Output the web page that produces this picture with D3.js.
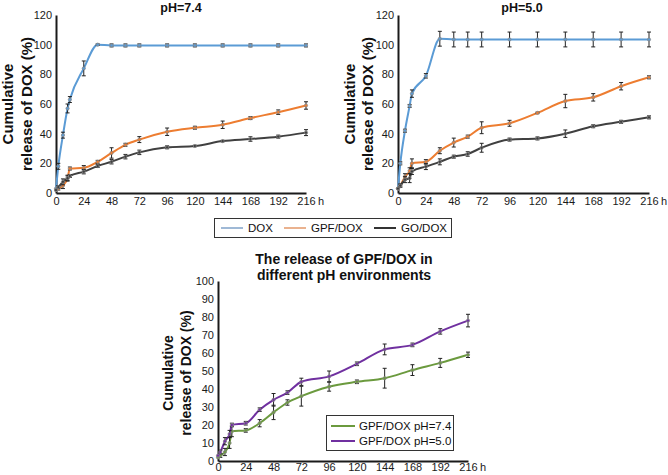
<!DOCTYPE html>
<html><head><meta charset="utf-8">
<script src="https://cdn.jsdelivr.net/npm/d3@7/dist/d3.min.js"></script>
<style>
body{margin:0;background:#fff;}
svg{display:block;font-family:"Liberation Sans",Arial,sans-serif;}
</style></head>
<body>
<svg id="c" width="668" height="475"></svg>
<script>
// ---- data ----
const times = [0, 2, 6, 10, 12, 24, 36, 48, 60, 72, 96, 120, 144, 168, 192, 216];
const xTicks = [0, 24, 48, 72, 96, 120, 144, 168, 192, 216];

// pH 7.4
const dox74    = [3, 18, 39, 57, 63, 84, 100, 99.5, 99.5, 99.5, 99.5, 99.5, 99.5, 99.5, 99.5, 99.5];
const dox74Err = [0, 2, 2, 3, 2, 5, 0.5, 1, 1, 1, 1, 1, 1, 1, 1, 1];
const gpf74    = [2, 3, 5, 10, 16.5, 17, 21, 27, 32.5, 36, 41.3, 44, 46, 50.5, 54.5, 59];
const gpf74Err = [0, 1, 2, 2, 1, 1.5, 1, 3.5, 1, 2, 2.5, 1, 2.5, 1, 1.5, 2.5];
const go74     = [2, 4, 7.5, 10, 11.5, 14.4, 18.2, 21.1, 24.5, 27.4, 30.8, 31.7, 35, 36.4, 38, 40.7];
const go74Err  = [0, 1, 2, 1.5, 1, 1.5, 1, 1.5, 1.5, 1.5, 1, 0.5, 0.5, 1.5, 1, 2];

// pH 5.0
const dox50    = [3, 20, 42, 58.7, 67, 79, 104, 103.5, 103.5, 103.5, 103.5, 103.5, 103.5, 103.5, 103.5, 103.5];
const dox50Err = [0, 1, 1, 1, 2.5, 1.5, 5, 5, 5, 5, 5, 5, 5, 5, 5, 5];
const gpf50    = [3, 5, 11, 15, 20, 21, 28.5, 34, 38, 44, 47, 54, 62, 64.5, 72, 78];
const gpf50Err = [0, 1, 2, 2, 3, 1.5, 2, 3, 1, 4, 2, 0.5, 4.5, 2.5, 2.5, 1];
const go50     = [3, 5, 9, 10, 14.5, 17.8, 21, 24.5, 26.3, 30.5, 36, 36.8, 40, 45, 48, 51];
const go50Err  = [0, 1, 2, 3, 2, 2, 2, 1, 1.5, 3, 1, 1, 2.5, 1, 1, 1];

// comparison chart error bars
const gpf74ErrC = [0, 1, 2, 3, 3, 1, 2, 4, 1.5, 5.5, 2.5, 1, 5.5, 3, 2.5, 1.5];
const gpf50ErrC = [0, 1, 2, 2, 1, 1, 1, 3.5, 1, 2, 3, 1, 3, 1, 1.5, 3.5];

const topLegend = ["DOX", "GPF/DOX", "GO/DOX"];
const bottomLegend = ["GPF/DOX pH=7.4", "GPF/DOX pH=5.0"];

const C = {dox:"#5b9bd5", gpf:"#ed7d31", go:"#404040", green:"#6b9a3e", purple:"#7030a0"};

const svg = d3.select("#c");

function chart(o){
  const g = svg.append("g");
  const x = d3.scaleLinear().domain([0,216]).range([o.x0, o.x1]);
  const y = d3.scaleLinear().domain([0,o.ymax]).range([o.y0, o.y1]);
  // axes
  const ya = d3.axisLeft(y).tickValues(d3.range(0,o.ymax+1,o.ystep)).tickSize(0).tickPadding(4);
  const yg = g.append("g").attr("transform",`translate(${o.x0},0)`).call(ya);
  const xa = d3.axisBottom(x).tickValues(xTicks).tickSize(0).tickPadding(o.xpad);
  const xg = g.append("g").attr("transform",`translate(0,${o.y0})`).call(xa);
  [yg,xg].forEach(a=>{
    a.select(".domain").attr("stroke","#1a1a1a").attr("stroke-width",2);
    a.selectAll("text").attr("font-size",o.tickFont).attr("fill","#1a1a1a")
      .attr("font-family","'Liberation Sans',Arial,sans-serif");
  });
  g.append("text").attr("x",x(216)+12).attr("y",o.y0+o.xpad).attr("dy","0.71em")
    .attr("font-size",o.tickFont).attr("fill","#1a1a1a").text("h");
  // title
  o.title.forEach((t,i)=>g.append("text").attr("x",o.tx).attr("y",o.ty+i*o.tlh)
    .attr("text-anchor","middle").attr("font-weight","bold").attr("font-size",o.tfont)
    .attr("fill","#111").text(t));
  // y title
  ["Cumulative","release of DOX (%)"].forEach((t,i)=>g.append("text")
    .attr("transform",`translate(${o.yx[i]},${o.ycy}) rotate(-90)`)
    .attr("text-anchor","middle").attr("dy","0.35em").attr("font-weight","bold")
    .attr("font-size",o.yfont).attr("fill","#111").text(t));
  // series
  const line = d3.line().x(d=>x(d.t)).y(d=>y(d.v)).curve(d3.curveMonotoneX);
  o.series.forEach(s=>{
    const pts = times.map((t,i)=>({t, v:s.v[i], e:s.e[i]}));
    g.append("path").datum(pts).attr("d",line).attr("fill","none")
      .attr("stroke",s.c).attr("stroke-width",2);
    const eb = g.append("g").attr("stroke","#222").attr("stroke-width",1);
    pts.filter(d=>d.e>0).forEach(d=>{
      const cx=x(d.t), ya1=y(d.v+d.e), ya2=y(d.v-d.e);
      eb.append("line").attr("x1",cx).attr("x2",cx).attr("y1",ya1).attr("y2",ya2);
      eb.append("line").attr("x1",cx-2).attr("x2",cx+2).attr("y1",ya1).attr("y2",ya1);
      eb.append("line").attr("x1",cx-2).attr("x2",cx+2).attr("y1",ya2).attr("y2",ya2);
    });
    g.append("g").selectAll("circle").data(pts).join("circle")
      .attr("cx",d=>x(d.t)).attr("cy",d=>y(d.v)).attr("r",1.6)
      .attr("fill",s.c).attr("stroke","#888").attr("stroke-width",0.8);
  });
}

chart({x0:56,x1:306,y0:193,y1:15,ymax:120,ystep:20,tickFont:11,xpad:4,
  title:["pH=7.4"],tx:181,ty:12,tlh:0,tfont:12.5,
  yx:[8,27],ycy:104,yfont:15,
  series:[{v:dox74,e:dox74Err,c:C.dox},{v:gpf74,e:gpf74Err,c:C.gpf},{v:go74,e:go74Err,c:C.go}]});

chart({x0:398,x1:649,y0:193,y1:15,ymax:120,ystep:20,tickFont:11,xpad:4,
  title:["pH=5.0"],tx:522,ty:12,tlh:0,tfont:12.5,
  yx:[350,368],ycy:104,yfont:15,
  series:[{v:dox50,e:dox50Err,c:C.dox},{v:gpf50,e:gpf50Err,c:C.gpf},{v:go50,e:go50Err,c:C.go}]});

chart({x0:218,x1:468,y0:461,y1:281,ymax:100,ystep:10,tickFont:11,xpad:2,
  title:["The release of GPF/DOX in","different pH environments"],tx:344,ty:264,tlh:16,tfont:14,
  yx:[168,186],ycy:373,yfont:14,
  series:[{v:gpf74,e:gpf74ErrC,c:C.green},{v:gpf50,e:gpf50ErrC,c:C.purple}]});

// top legend
const lg = svg.append("g");
lg.append("rect").attr("x",214.5).attr("y",218.5).attr("width",237).attr("height",19)
  .attr("fill","#fff").attr("stroke","#333").attr("stroke-width",1);
const lcols = ["#9fb9d6","#eab28f","#333"];
const lxs = [221,284,374];
topLegend.forEach((t,i)=>{
  lg.append("line").attr("x1",lxs[i]).attr("x2",lxs[i]+22).attr("y1",228).attr("y2",228)
    .attr("stroke",lcols[i]).attr("stroke-width",2);
  lg.append("text").attr("x",lxs[i]+27).attr("y",228).attr("dy","0.35em")
    .attr("font-size",11.5).attr("fill","#111").text(t);
});

// bottom legend
const bl = svg.append("g");
bl.append("rect").attr("x",326.5).attr("y",415.5).attr("width",127).attr("height",35)
  .attr("fill","#fff").attr("stroke","#333").attr("stroke-width",1);
const bcols = [C.green, C.purple];
bottomLegend.forEach((t,i)=>{
  const yy = 426 + i*15;
  bl.append("line").attr("x1",331).attr("x2",355).attr("y1",yy).attr("y2",yy)
    .attr("stroke",bcols[i]).attr("stroke-width",2);
  bl.append("text").attr("x",359).attr("y",yy).attr("dy","0.35em")
    .attr("font-size",11.5).attr("fill","#111").text(t);
});
</script>
</body></html>
